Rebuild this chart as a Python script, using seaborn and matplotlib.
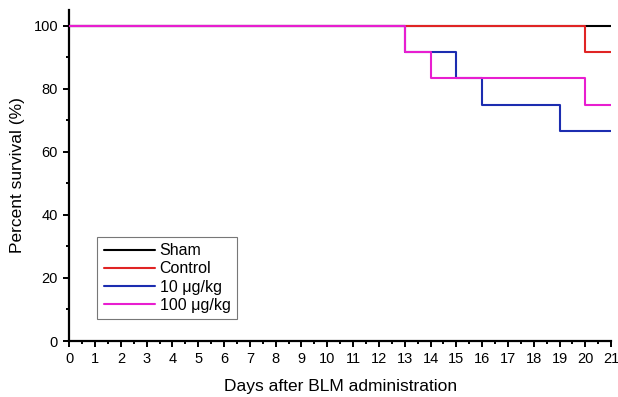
import numpy as np
import pandas as pd
import matplotlib
matplotlib.use("Agg")
from matplotlib import pyplot as plt
from matplotlib.ticker import MultipleLocator
import seaborn as sns

# survival curves (step points, steps-post)
sham_days = [0, 21]
sham_surv = [100, 100]
control_days = [0, 20, 21]
control_surv = [100, 91.67, 91.67]
low_days = [0, 13, 15, 16, 19, 21]
low_surv = [100, 91.67, 83.33, 75, 66.67, 66.67]
high_days = [0, 13, 14, 20, 21]
high_surv = [100, 91.67, 83.33, 75, 75]

groups = ['Sham', 'Control', '10 \u03bcg/kg', '100 \u03bcg/kg']
colors = ['#000000', '#e02424', '#1c2db0', '#e81ed0']
zorders = [2, 4, 3, 5]

sns.set_style("ticks")
plt.rcParams['font.family'] = ['Liberation Sans', 'DejaVu Sans']
plt.rcParams['text.color'] = 'black'
plt.rcParams['axes.labelcolor'] = 'black'

fig = plt.figure(figsize=(6.18, 3.97), dpi=100)
ax = fig.add_axes([0.112, 0.141, 0.877, 0.834])

data = [(sham_days, sham_surv), (control_days, control_surv),
        (low_days, low_surv), (high_days, high_surv)]
handles = []
for (d, s), g, c, z in zip(data, groups, colors, zorders):
    df = pd.DataFrame({'day': d, 'surv': s})
    sns.lineplot(data=df, x='day', y='surv', color=c, lw=1.5,
                 drawstyle='steps-post', ax=ax, zorder=z)
    handles.append(ax.lines[-1])

ax.set_xlim(0, 21)
ax.set_ylim(0, 105)
ax.xaxis.set_major_locator(MultipleLocator(1))
ax.xaxis.set_minor_locator(MultipleLocator(0.5))
ax.yaxis.set_major_locator(MultipleLocator(20))
ax.yaxis.set_minor_locator(MultipleLocator(10))
ax.tick_params(which='major', direction='out', length=4.5, width=1.4, labelsize=10.5, colors='black')
ax.tick_params(which='minor', direction='out', length=2.5, width=1.4, colors='black')
for sp in ['left', 'bottom']:
    ax.spines[sp].set_linewidth(1.6)
    ax.spines[sp].set_color('black')
ax.spines['top'].set_visible(False)
ax.spines['right'].set_visible(False)

ax.set_xlabel('Days after BLM administration', fontsize=12.5, labelpad=9)
ax.set_ylabel('Percent survival (%)', fontsize=12.5, labelpad=6)

leg = ax.legend(handles, groups, loc='upper left', bbox_to_anchor=(0.052, 0.315),
                fontsize=11.5, frameon=True, fancybox=False, edgecolor='#555555',
                handlelength=3.2, handletextpad=0.3, borderpad=0.4, labelspacing=0.2,
                borderaxespad=0)
leg.get_frame().set_linewidth(0.8)

fig.savefig('out.png', dpi=100)
